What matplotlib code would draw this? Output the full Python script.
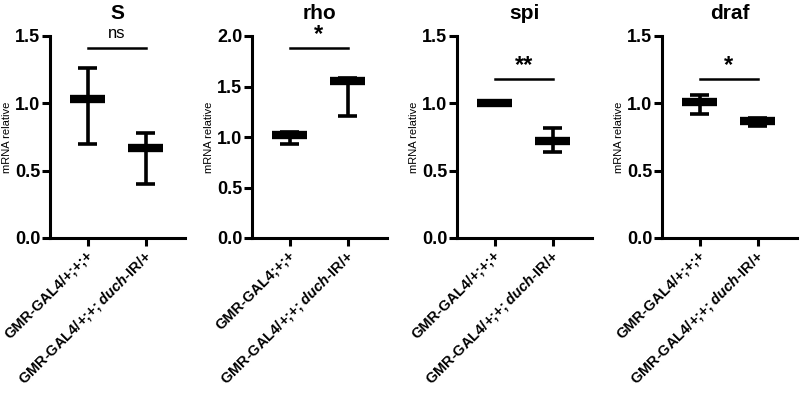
import matplotlib
matplotlib.use("Agg")
import matplotlib.pyplot as plt
import numpy as np

plt.rcParams['font.family'] = ['Liberation Sans', 'DejaVu Sans']
plt.rcParams['mathtext.fontset'] = 'custom'
plt.rcParams['mathtext.it'] = 'Liberation Sans:italic:bold'
plt.rcParams['mathtext.rm'] = 'Liberation Sans:bold'
plt.rcParams['mathtext.bf'] = 'Liberation Sans:bold'

genes = ["S", "rho", "spi", "draf"]
ctrl_labels = ["GMR-GAL4/+;+;+", "GMR-GAL4;+;+", "GMR-GAL4/+;+;+", "GMR-GAL4/+;+;+"]
duch_label = r"GMR-GAL4/+;+; $\mathit{duch}$-IR/+"

ctrl_mean = [1.03, 1.02, 1.00, 1.01]
ctrl_min = [0.70, 0.93, 0.995, 0.92]
ctrl_max = [1.26, 1.05, 1.005, 1.06]
duch_mean = [0.67, 1.55, 0.72, 0.87]
duch_min = [0.40, 1.21, 0.64, 0.83]
duch_max = [0.78, 1.58, 0.82, 0.89]

sig_labels = ["ns", "*", "**", "*"]
sig_y = [1.41, 1.88, 1.18, 1.18]
ymax = [1.5, 2.0, 1.5, 1.5]
yticks = [[0, 0.5, 1.0, 1.5], [0, 0.5, 1.0, 1.5, 2.0], [0, 0.5, 1.0, 1.5], [0, 0.5, 1.0, 1.5]]

W, H = 800, 394
fig = plt.figure(figsize=(W / 100, H / 100), dpi=100)

axis_left_px = [50, 252, 457, 662]
axis_w_px = 135
top_px, bot_px = 36, 238

for i, g in enumerate(genes):
    ax = fig.add_axes([axis_left_px[i] / W, 1 - bot_px / H, axis_w_px / W, (bot_px - top_px) / H])
    ax.set_xlim(-0.65, 1.68)
    ax.set_ylim(0, ymax[i])
    for s in ["top", "right"]:
        ax.spines[s].set_visible(False)
    for s in ["left", "bottom"]:
        ax.spines[s].set_linewidth(2.2)
    ax.tick_params(width=2.2, length=6, labelsize=13, pad=1)
    ax.set_yticks(yticks[i])
    ax.set_yticklabels([f"{v:.1f}" for v in yticks[i]], fontweight='bold')
    ax.set_xticks([0, 1])
    ax.set_xticklabels(["", ""])

    means = [ctrl_mean[i], duch_mean[i]]
    mins = [ctrl_min[i], duch_min[i]]
    maxs = [ctrl_max[i], duch_max[i]]
    for x in range(2):
        ax.plot([x, x], [mins[x], maxs[x]], color='black', lw=2.6, solid_capstyle='butt')
        ax.plot([x - 0.16, x + 0.16], [mins[x], mins[x]], color='black', lw=2.6, solid_capstyle='butt')
        ax.plot([x - 0.16, x + 0.16], [maxs[x], maxs[x]], color='black', lw=2.6, solid_capstyle='butt')
        ax.plot([x - 0.3, x + 0.3], [means[x], means[x]], color='black', lw=6, solid_capstyle='butt')

    ax.plot([0, 1], [sig_y[i], sig_y[i]], color='black', lw=1.8)
    if sig_labels[i] == "ns":
        ax.text(0.5, sig_y[i] + 0.035 * ymax[i], "ns", ha='center', va='bottom', fontsize=12)
    else:
        ax.text(0.5, sig_y[i] + 0.01 * ymax[i], sig_labels[i], ha='center', va='bottom',
                fontsize=17, fontweight='bold')

    ax.set_title(g, fontsize=15, fontweight='bold', pad=12)
    ax.set_ylabel("mRNA relative", fontsize=8)
    ax.yaxis.set_label_coords(-0.28, 0.5)

    # x tick labels
    ax.text(-0.04, -0.05 * ymax[i], ctrl_labels[i], rotation=45, ha='right', va='top',
            rotation_mode='anchor', fontsize=10.5, fontweight='bold', transform=ax.transData)
    ax.text(0.96, -0.05 * ymax[i], duch_label,
            rotation=45, ha='right', va='top', rotation_mode='anchor', fontsize=10.5,
            fontweight='bold', transform=ax.transData)

fig.savefig("out.png", dpi=100)
